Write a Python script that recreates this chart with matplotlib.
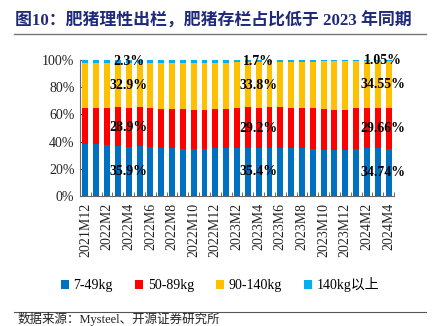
import matplotlib
matplotlib.use("Agg")
import matplotlib.pyplot as plt
import numpy as np

months = ["2021M12", "2022M1", "2022M2", "2022M3", "2022M4", "2022M5", "2022M6", "2022M7",
          "2022M8", "2022M9", "2022M10", "2022M11", "2022M12", "2023M1", "2023M2", "2023M3",
          "2023M4", "2023M5", "2023M6", "2023M7", "2023M8", "2023M9", "2023M10", "2023M11",
          "2023M12", "2024M1", "2024M2", "2024M3", "2024M4"]

w_7_49 = [38.2, 38.0, 37.4, 36.7, 35.9, 36.6, 36.0, 35.5, 35.0, 34.8, 34.6, 34.6, 35.0, 35.0,
          35.2, 35.4, 35.4, 35.5, 35.2, 35.3, 35.0, 34.6, 33.8, 33.7, 33.8, 34.9, 35.0, 35.0, 34.74]
w_50_89 = [26.3, 26.6, 27.4, 28.9, 28.9, 29.0, 28.7, 28.7, 29.0, 28.9, 28.7, 28.7, 28.7, 29.3,
           29.6, 29.8, 29.2, 29.7, 29.9, 29.7, 30.0, 30.0, 29.9, 29.6, 29.5, 29.6, 29.9, 29.9, 29.66]
w_90_140 = [33.0, 32.9, 32.7, 31.9, 32.9, 31.9, 32.8, 33.3, 33.5, 34.3, 34.7, 34.7, 34.3, 33.7,
            33.7, 33.3, 33.8, 33.3, 33.4, 33.5, 33.5, 33.9, 35.3, 35.7, 35.7, 34.5, 34.1, 34.1, 34.55]
w_140 = [2.5, 2.5, 2.5, 2.5, 2.3, 2.5, 2.5, 2.5, 2.5, 2.0, 2.0, 2.0, 2.0, 2.0,
         1.5, 1.5, 1.7, 1.5, 1.5, 1.5, 1.5, 1.5, 1.0, 1.0, 1.0, 1.0, 1.0, 1.0, 1.05]

series_names = ["7-49kg", "50-89kg", "90-140kg", "140kg以上"]
colors = ["#0070C0", "#FF0000", "#FFC000", "#00B0F0"]

label_idx = [4, 16, 28]
label_text = [["35.9%", "28.9%", "32.9%", "2.3%"],
              ["35.4%", "29.2%", "33.8%", "1.7%"],
              ["34.74%", "29.66%", "34.55%", "1.05%"]]

serif = ["Liberation Serif", "Noto Sans CJK SC"]
plt.rcParams["font.family"] = serif

data = np.array([w_7_49, w_50_89, w_90_140, w_140], dtype=float)
data = data / data.sum(axis=0) * 100

fig = plt.figure(figsize=(4.4, 3.26), dpi=100)
ax = fig.add_axes([80/440, 1-196/326, (394-80)/440, (196-60)/326])

x = np.arange(len(months))
bottom = np.zeros(len(months))
handles = []
for i in range(4):
    h = ax.bar(x, data[i], bottom=bottom, width=0.55, color=colors[i], label=series_names[i], zorder=2)
    handles.append(h)
    bottom = bottom + data[i]

for k, idx in enumerate(label_idx):
    cum = 0
    xpos = idx - 0.5 if k == 2 else idx
    for s in range(4):
        mid = cum + data[s][idx] / 2
        cum += data[s][idx]
        ax.text(xpos, mid, label_text[k][s], ha="center", va="center", fontsize=10,
                fontweight="bold", color="black", zorder=5)

ax.set_xlim(-0.5, len(months) - 0.5)
ax.set_ylim(0, 100)
ax.set_yticks([0, 20, 40, 60, 80, 100])
ax.set_yticklabels([f"{v}%" for v in [0, 20, 40, 60, 80, 100]], fontsize=10, color="#222222")
ax.tick_params(axis="y", direction="in", length=3, color="#555555", pad=4)
ax.set_xticks(x[::2])
ax.set_xticklabels(months[::2], rotation=90, fontsize=10, color="#222222")
ax.tick_params(axis="x", which="major", length=0, pad=5)
ax.set_xticks(np.arange(-0.5, len(months), 1), minor=True)
ax.tick_params(axis="x", which="minor", direction="in", length=3, color="#555555")
for sp in ["top", "right"]:
    ax.spines[sp].set_visible(False)
for sp in ["left", "bottom"]:
    ax.spines[sp].set_color("#666666")
    ax.spines[sp].set_linewidth(0.8)

fig.legend(handles=handles, labels=series_names, loc="center", bbox_to_anchor=(0.5, 1-285/326),
           ncol=4, frameon=False, fontsize=10, handlelength=0.6, handleheight=0.6,
           handletextpad=0.3, columnspacing=1.6, prop={"family": serif, "size": 10})

fig.text(15/440, 1-21/326, "图10：肥猪理性出栏，肥猪存栏占比低于 2023 年同期", fontsize=12.2,
         fontweight="bold", color="#1F2A7A", ha="left", va="center", family=serif)
fig.add_artist(plt.Line2D([14/440, 426/440], [1-34/326, 1-34/326], color="#777777", linewidth=1.0))
fig.add_artist(plt.Line2D([14/440, 426/440], [1-312/326, 1-312/326], color="#555555", linewidth=0.8))
fig.text(18/440, 1-319.5/326, "数据来源：Mysteel、开源证券研究所", fontsize=9, color="#222222",
         ha="left", va="center", family=serif)

fig.savefig("out.png", dpi=100)
